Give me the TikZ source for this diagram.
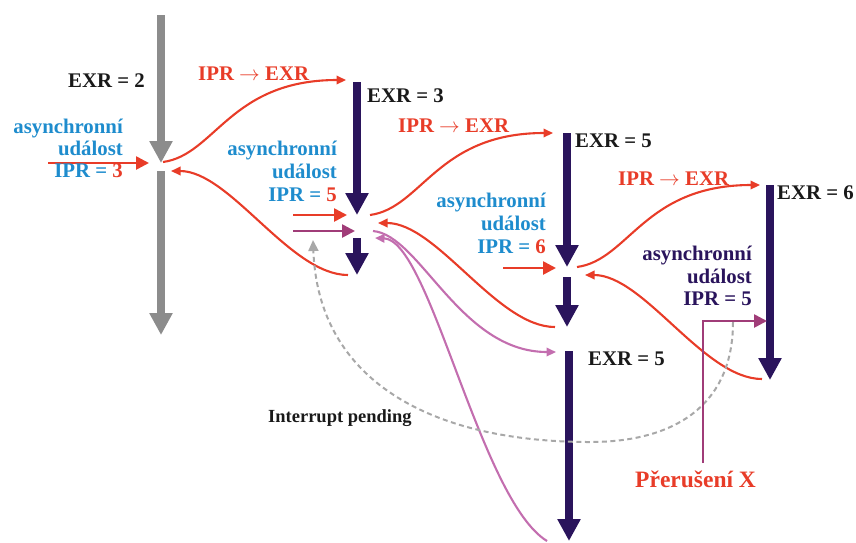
\documentclass[tikz,border=0pt]{standalone}
\usepackage{fontspec}
\setmainfont{Liberation Serif}
\usetikzlibrary{arrows.meta}
\definecolor{cred}{RGB}{232,60,40}
\definecolor{cblue}{RGB}{30,140,205}
\definecolor{cnavy}{RGB}{42,20,92}
\definecolor{cgray}{RGB}{140,140,140}
\definecolor{cpurple}{RGB}{160,60,120}
\definecolor{cpink}{RGB}{195,110,175}
\definecolor{cdash}{RGB}{168,168,168}
\definecolor{ctext}{RGB}{25,25,25}
\begin{document}
\begin{tikzpicture}[x=1pt,y=-1pt,
  txt/.style={inner sep=0pt, text=ctext, font=\bfseries\fontsize{20.8}{24}\selectfont},
  bluetxt/.style={txt, text=cblue},
  navytxt/.style={txt, text=cnavy},
  redtxt/.style={txt, text=cred},
  thread/.style={line width=8.5pt, -{Triangle[width=22pt,length=22pt]}},
  grthread/.style={thread, draw=cgray},
  nvthread/.style={thread, draw=cnavy},
  bigred/.style={draw=cred, line width=2.6pt, -{Triangle[width=13pt,length=13pt]}},
  bigpurple/.style={draw=cpurple, line width=2.6pt, -{Triangle[width=13pt,length=13pt]}},
  redcurve/.style={draw=cred, line width=2.1pt, -{Triangle[width=8.5pt,length=9.5pt]}},
  pinkcurve/.style={draw=cpink, line width=2.1pt, -{Triangle[width=8.5pt,length=9.5pt]}},
  dashcurve/.style={draw=cdash, line width=2pt, dash pattern=on 5pt off 3.5pt, -{Triangle[width=10pt,length=11pt]}}
]
\useasboundingbox (0,0) rectangle (856,542);

% thread coordinates
\coordinate (g1s) at (161,15);  \coordinate (g1e) at (161,163);
\coordinate (g2s) at (161,171); \coordinate (g2e) at (161,335);
\coordinate (n2as) at (357,82);  \coordinate (n2ae) at (357,215);
\coordinate (n2bs) at (357,238); \coordinate (n2be) at (357,275);
\coordinate (n3as) at (567,133); \coordinate (n3ae) at (567,267);
\coordinate (n3bs) at (567,277); \coordinate (n3be) at (567,327);
\coordinate (n4s) at (770,185);  \coordinate (n4e) at (770,380);
\coordinate (n5s) at (569,351);  \coordinate (n5e) at (569,541);

\draw[grthread] (g1s) -- (g1e);
\draw[grthread] (g2s) -- (g2e);
\draw[nvthread] (n2as) -- (n2ae);
\draw[nvthread] (n2bs) -- (n2be);
\draw[nvthread] (n3as) -- (n3ae);
\draw[nvthread] (n3bs) -- (n3be);
\draw[nvthread] (n4s) -- (n4e);
\draw[nvthread] (n5s) -- (n5e);

% event arrows
\coordinate (r1s) at (48,163);  \coordinate (r1e) at (149,163);
\coordinate (r2s) at (293,215); \coordinate (r2e) at (347,215);
\coordinate (r3s) at (503,268); \coordinate (r3e) at (556,268);
\coordinate (p2s) at (293,231); \coordinate (p2e) at (355,231);
\draw[bigred] (r1s) -- (r1e);
\draw[bigred] (r2s) -- (r2e);
\draw[bigred] (r3s) -- (r3e);
\draw[bigpurple] (p2s) -- (p2e);

% IPR -> EXR curves
\coordinate (c1s) at (163,162); \coordinate (c1e) at (346,80);
\coordinate (c2s) at (370,215); \coordinate (c2e) at (553,133);
\coordinate (c3s) at (577,267); \coordinate (c3e) at (760,185);
\draw[redcurve] (c1s) .. controls +(52,-7) and +(-116,0) .. (c1e);
\draw[redcurve] (c2s) .. controls +(52,-7) and +(-116,0) .. (c2e);
\draw[redcurve] (c3s) .. controls +(52,-7) and +(-116,0) .. (c3e);

% return curves
\coordinate (d1s) at (348,275); \coordinate (d1e) at (171,171);
\coordinate (d2s) at (555,327); \coordinate (d2e) at (378,223);
\coordinate (d3s) at (762,379); \coordinate (d3e) at (585,275);
\draw[redcurve] (d1s) .. controls +(-58,0) and +(59,0) .. (d1e);
\draw[redcurve] (d2s) .. controls +(-58,0) and +(59,0) .. (d2e);
\draw[redcurve] (d3s) .. controls +(-58,0) and +(59,0) .. (d3e);

% interrupt handler call and return
\coordinate (ka) at (373,231); \coordinate (kae) at (556,352);
\coordinate (kb) at (547,541); \coordinate (kbe) at (375,238);
\draw[pinkcurve] (ka) .. controls (420,235) and (460,352) .. (kae);
\draw[pinkcurve] (kb) .. controls (480,500) and (430,240) .. (kbe);

% interrupt pending
\coordinate (ps) at (733,322); \coordinate (pm) at (590,442); \coordinate (pe) at (313,240);
\draw[dashcurve] (ps) .. controls (733,405) and (675,442) .. (pm) .. controls (430,442) and (318,380) .. (pe);

% Preruseni X
\coordinate (xs) at (703,463); \coordinate (xe) at (767,321);
\draw[draw=cpurple, line width=2.6pt, -{Triangle[width=13pt,length=13pt]}] (xs) |- (xe);

% labels
\node[txt, anchor=base west] (exr2) at (68,87) {EXR = 2};
\node[txt, anchor=base west] (exr3) at (367,102) {EXR = 3};
\node[txt, anchor=base west] (exr5) at (575,147) {EXR = 5};
\node[txt, anchor=base west] (exr6) at (777,199) {EXR = 6};
\node[txt, anchor=base west] (exr5b) at (588,365) {EXR = 5};

\node[redtxt, anchor=base west] (ie1) at (198,80) {IPR $\rightarrow$ EXR};
\node[redtxt, anchor=base west] (ie2) at (398,132) {IPR $\rightarrow$ EXR};
\node[redtxt, anchor=base west] (ie3) at (618,185) {IPR $\rightarrow$ EXR};

\node[bluetxt, anchor=base east] (a1a) at (123,133) {asynchronní};
\node[bluetxt, anchor=base east] (a1b) at (123,155) {událost};
\node[bluetxt, anchor=base east] (a1c) at (123,177) {IPR = \textcolor{cred}{3}};

\node[bluetxt, anchor=base east] (a2a) at (337,155) {asynchronní};
\node[bluetxt, anchor=base east] (a2b) at (337,178) {událost};
\node[bluetxt, anchor=base east] (a2c) at (337,201) {IPR = \textcolor{cred}{5}};

\node[bluetxt, anchor=base east] (a3a) at (546,207) {asynchronní};
\node[bluetxt, anchor=base east] (a3b) at (546,230) {událost};
\node[bluetxt, anchor=base east] (a3c) at (546,253) {IPR = \textcolor{cred}{6}};

\node[navytxt, anchor=base east] (a4a) at (752,260) {asynchronní};
\node[navytxt, anchor=base east] (a4b) at (752,283) {událost};
\node[navytxt, anchor=base east] (a4c) at (752,305) {IPR = 5};

\node[txt, anchor=base west, font=\bfseries\fontsize{18.5}{22}\selectfont] (ip) at (268,422) {Interrupt pending};
\node[redtxt, anchor=base west, font=\bfseries\fontsize{23.5}{28}\selectfont] (px) at (635,487) {Přerušení X};
\end{tikzpicture}
\end{document}
